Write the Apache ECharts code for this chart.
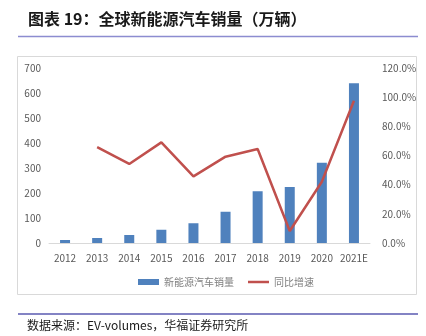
<!DOCTYPE html>
<html><head><meta charset="utf-8">
<script src="https://cdn.jsdelivr.net/npm/echarts@6/dist/echarts.min.js"></script>
<style>html,body{margin:0;padding:0;background:#fff}#c{width:426px;height:336px}</style>
</head><body><div id="c"></div>
<script>
const categories = ['2012','2013','2014','2015','2016','2017','2018','2019','2020','2021E'];
const salesValues = [12, 20, 32, 53, 79, 125, 207, 224, 321, 639];
const growthValues = [null, 0.658, 0.542, 0.690, 0.457, 0.592, 0.645, 0.082, 0.420, 0.975];
const leftTicks = {min: 0, max: 700, interval: 100};
const rightTicks = {min: 0, max: 1.2, interval: 0.2};
const seriesNames = ['新能源汽车销量', '同比增速'];
const titleText = '图表 19：全球新能源汽车销量（万辆）';
const sourceText = '数据来源：EV-volumes，华福证券研究所';

const font = '"Noto Sans CJK SC", "Noto Sans", sans-serif';
const chart = echarts.init(document.getElementById('c'), null, {renderer: 'canvas'});
chart.setOption({
  backgroundColor: '#fff',
  animation: false,
  textStyle: {fontFamily: font},
  grid: {left: 49, right: 56, top: 68, bottom: 93, containLabel: false},
  legend: {
    left: 133, top: 272, itemWidth: 21, itemHeight: 6, itemGap: 14,
    textStyle: {color: '#7f7f7f', fontSize: 10, fontFamily: font},
    data: [
      {name: seriesNames[0], icon: 'rect'},
      {name: seriesNames[1], icon: 'path://M0,0 L21,0 L21,2.5 L0,2.5 Z', itemStyle: {color: '#C0504D'}}
    ]
  },
  xAxis: {
    type: 'category', data: categories,
    axisLine: {lineStyle: {color: '#d9d9d9'}},
    axisTick: {show: false},
    axisLabel: {color: '#595959', fontSize: 10, margin: 10, interval: 0, fontFamily: font}
  },
  yAxis: [{
    type: 'value', min: leftTicks.min, max: leftTicks.max, interval: leftTicks.interval,
    splitLine: {show: false}, axisLine: {show: false}, axisTick: {show: false},
    axisLabel: {color: '#595959', fontSize: 10, margin: 8, fontFamily: font}
  }, {
    type: 'value', min: rightTicks.min, max: rightTicks.max, interval: rightTicks.interval,
    splitLine: {show: false}, axisLine: {show: false}, axisTick: {show: false},
    axisLabel: {color: '#595959', fontSize: 10, margin: 12, fontFamily: font,
      formatter: v => (v * 100).toFixed(1) + '%'}
  }],
  series: [{
    name: seriesNames[0], type: 'bar', data: salesValues, barWidth: 10,
    itemStyle: {color: '#4F81BD'}, yAxisIndex: 0
  }, {
    name: seriesNames[1], type: 'line', data: growthValues, yAxisIndex: 1,
    symbol: 'none', lineStyle: {color: '#C0504D', width: 2.5}, itemStyle: {color: '#C0504D'}
  }],
  graphic: [
    {type: 'text', left: 28, top: 11, style: {text: titleText, font: 'bold 16px ' + font, fill: '#1a1a1a'}},
    {type: 'line', shape: {x1: 18, y1: 36.5, x2: 418, y2: 36.5}, style: {stroke: '#8c8cd0', lineWidth: 1.5}},
    {type: 'rect', shape: {x: 17.5, y: 56.5, width: 399, height: 238}, style: {fill: 'none', stroke: '#d9d9d9', lineWidth: 1}},
    {type: 'line', shape: {x1: 18, y1: 314, x2: 418, y2: 314}, style: {stroke: '#5a5ab0', lineWidth: 1.5}},
    {type: 'text', left: 27, top: 319, style: {text: sourceText, font: '12px ' + font, fill: '#1a1a1a'}}
  ]
});
</script></body></html>
